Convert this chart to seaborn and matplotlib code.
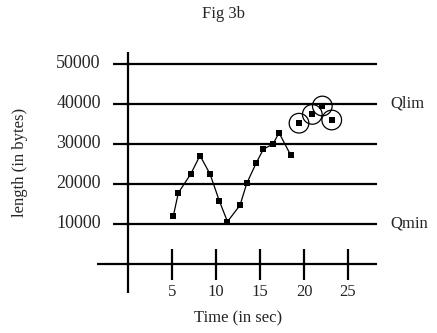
import matplotlib
matplotlib.use("Agg")
import matplotlib.pyplot as plt
import seaborn as sns
import pandas as pd

# Data
time_s = [5.15, 5.72, 7.13, 8.18, 9.32, 10.38, 11.3, 12.73, 13.5, 14.58, 15.38, 16.48, 17.16, 18.49]
length_b = [12000, 17800, 22500, 27100, 22500, 15750, 10600, 14700, 20200, 25300, 28700, 30000, 32800, 27200]
circ_time = [19.43, 20.94, 22.08, 23.15]
circ_length = [35200, 37400, 39500, 36000]
y_ticks = [10000, 20000, 30000, 40000, 50000]
x_ticks = [5, 10, 15, 20, 25]
title = "Fig 3b"
xlabel = "Time (in sec)"
ylabel = "length (in bytes)"
qlim_label, qlim_val = "Qlim", 40000
qmin_label, qmin_val = "Qmin", 10000

sns.set_style("white")
plt.rcParams['font.family'] = ['Liberation Serif', 'DejaVu Serif']

fig = plt.figure(figsize=(4.37, 3.33), dpi=100)
ax = fig.add_axes([0, 0, 1, 1])
ax.set_xlim(-14.545, 35.11)
ax.set_ylim(-17250, 66000)
ax.axis("off")

fs = 12
# grid lines
ax.hlines(y_ticks, -1.7, 28.3, color="black", lw=1.6)
# axes cross
ax.hlines(0, -3.5, 28.3, color="black", lw=1.6)
ax.vlines(0, -7300, 53000, color="black", lw=1.6)
# x ticks
ax.vlines(x_ticks, -4000, 3800, color="black", lw=1.6)

for v in y_ticks:
    ax.text(-3.1, v, f"{v}", ha="right", va="center", fontsize=13)
for v in x_ticks:
    ax.text(v, -5000, f"{v}", ha="center", va="top", fontsize=fs)

ax.text(29.8, qlim_val, qlim_label, ha="left", va="center", fontsize=fs)
ax.text(29.8, qmin_val, qmin_label, ha="left", va="center", fontsize=fs)

df = pd.DataFrame({"t": time_s, "len": length_b})
dc = pd.DataFrame({"t": circ_time, "len": circ_length})
sns.lineplot(data=df, x="t", y="len", ax=ax, color="black", lw=0.9, sort=False)
sns.scatterplot(data=df, x="t", y="len", ax=ax, marker="s", color="black", s=22, linewidth=0, zorder=5)
sns.scatterplot(data=dc, x="t", y="len", ax=ax, marker="s", color="black", s=22, linewidth=0, zorder=5)
sns.scatterplot(data=dc, x="t", y="len", ax=ax, marker="o", facecolor="none", edgecolor="black", s=200, linewidth=0.9, zorder=6)

ax.text(10.8, 62500, title, ha="center", va="center", fontsize=fs)
ax.text(12.5, -13500, xlabel, ha="center", va="center", fontsize=fs)
ax.text(-12.3, 25500, ylabel, ha="center", va="center", rotation=90, fontsize=fs)

ax.set_xlim(-14.545, 35.11)
ax.set_ylim(-17250, 66000)
fig.savefig("out.png", dpi=100)
